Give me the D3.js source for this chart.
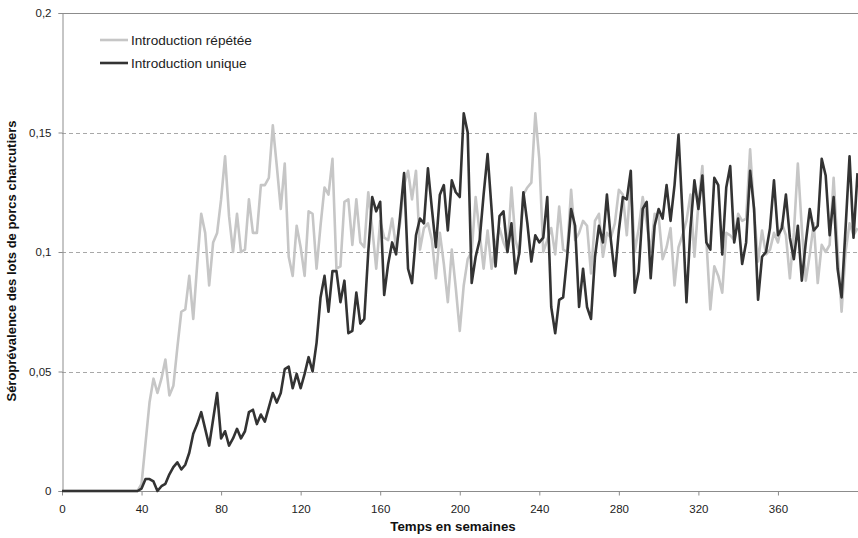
<!DOCTYPE html>
<html><head><meta charset="utf-8">
<script src="https://cdn.jsdelivr.net/npm/d3@7"></script>
<style>
body{margin:0;background:#fff;}
text{font-family:"Liberation Sans",Arial,sans-serif;}
</style></head>
<body>
<svg id="chart" width="858" height="538"></svg>
<script>
const weeks = d3.range(0, 401, 2);
const seriesNames = ["Introduction répétée", "Introduction unique"];
const repetee = [
0,0,0,0,0,0,0,0,0,0,0,0,0,0,0,0,0,0,0,0,
0.003,0.020,0.037,0.047,0.041,0.047,0.055,0.040,0.044,0.060,
0.075,0.076,0.090,0.072,0.095,0.116,0.108,0.086,0.104,0.108,
0.122,0.140,0.115,0.100,0.116,0.100,0.101,0.122,0.108,0.108,
0.128,0.128,0.131,0.153,0.136,0.118,0.137,0.098,0.090,0.111,
0.102,0.090,0.117,0.116,0.093,0.111,0.127,0.124,0.139,0.093,
0.094,0.121,0.122,0.103,0.122,0.104,0.102,0.125,0.110,0.093,
0.113,0.106,0.105,0.114,0.102,0.112,0.128,0.134,0.122,0.134,
0.101,0.110,0.112,0.105,0.089,0.108,0.095,0.079,0.101,0.085,
0.067,0.086,0.097,0.100,0.123,0.108,0.093,0.109,0.093,0.103,
0.110,0.104,0.100,0.127,0.105,0.099,0.124,0.127,0.129,0.158,
0.139,0.100,0.105,0.110,0.099,0.119,0.101,0.100,0.126,0.105,
0.108,0.113,0.111,0.091,0.113,0.116,0.098,0.108,0.106,0.112,
0.126,0.124,0.107,0.130,0.100,0.110,0.123,0.112,0.100,0.116,
0.115,0.097,0.102,0.110,0.086,0.102,0.107,0.113,0.124,0.098,
0.120,0.136,0.105,0.076,0.094,0.090,0.083,0.108,0.107,0.105,
0.116,0.113,0.114,0.143,0.117,0.096,0.109,0.099,0.101,0.108,
0.104,0.112,0.107,0.089,0.108,0.137,0.110,0.088,0.099,0.112,
0.087,0.103,0.100,0.103,0.131,0.101,0.075,0.100,0.112,0.107,
0.110
];
const unique = [
0,0,0,0,0,0,0,0,0,0,0,0,0,0,0,0,0,0,0,0,
0.001,0.005,0.005,0.004,0.000,0.002,0.003,0.007,0.010,0.012,
0.009,0.011,0.016,0.024,0.028,0.033,0.026,0.019,0.030,0.041,
0.022,0.025,0.019,0.022,0.026,0.022,0.025,0.033,0.034,0.028,
0.032,0.029,0.035,0.041,0.037,0.041,0.051,0.052,0.043,0.049,
0.043,0.049,0.056,0.050,0.062,0.081,0.090,0.075,0.092,0.092,
0.079,0.088,0.066,0.067,0.083,0.070,0.072,0.100,0.123,0.117,
0.121,0.082,0.095,0.104,0.099,0.115,0.133,0.093,0.087,0.107,
0.114,0.112,0.135,0.118,0.102,0.124,0.128,0.109,0.130,0.125,
0.123,0.158,0.150,0.087,0.098,0.105,0.124,0.141,0.118,0.094,
0.115,0.117,0.100,0.112,0.091,0.100,0.125,0.112,0.096,0.107,
0.104,0.106,0.123,0.077,0.066,0.080,0.081,0.098,0.118,0.111,
0.077,0.093,0.077,0.072,0.098,0.111,0.104,0.124,0.105,0.090,
0.109,0.123,0.122,0.134,0.083,0.092,0.118,0.121,0.089,0.111,
0.118,0.114,0.128,0.113,0.128,0.149,0.116,0.079,0.110,0.130,
0.118,0.132,0.104,0.101,0.131,0.128,0.099,0.127,0.136,0.104,
0.114,0.095,0.104,0.134,0.118,0.080,0.098,0.100,0.110,0.130,
0.107,0.110,0.124,0.106,0.097,0.111,0.088,0.104,0.118,0.109,
0.111,0.139,0.132,0.107,0.123,0.093,0.081,0.110,0.140,0.106,
0.133
];
const xTicks = [0,40,80,120,160,200,240,280,320,360];
const yTicks = [0,0.05,0.1,0.15,0.2];
const yTickLabels = ["0","0,05","0,1","0,15","0,2"];
const colors = ["#c6c6c6", "#333333"];

const svg = d3.select("#chart");
const m = {left:62, right:0.5, top:13, bottom:47};
const W = 858, H = 538;
const x = d3.scaleLinear().domain([0,400]).range([m.left, W - m.right]);
const y = d3.scaleLinear().domain([0,0.2]).range([H - m.bottom, m.top]);

// gridlines
svg.append("g").selectAll("line").data(yTicks.filter(v=>v>0 && v<0.2)).join("line")
  .attr("x1", m.left).attr("x2", W).attr("y1", d=>Math.round(y(d))+0.5).attr("y2", d=>Math.round(y(d))+0.5)
  .attr("stroke","#a8a8a8").attr("stroke-width",1).attr("stroke-dasharray","4,3");
// top border
svg.append("line").attr("x1",m.left).attr("x2",W).attr("y1",Math.round(y(0.2))+0.5).attr("y2",Math.round(y(0.2))+0.5)
  .attr("stroke","#8c8c8c").attr("stroke-width",1);

// y axis
const yAxis = d3.axisLeft(y).tickValues(yTicks).tickFormat((d,i)=>yTickLabels[i]).tickSize(4).tickPadding(7);
const gy = svg.append("g").attr("transform",`translate(${m.left+0.5},0)`).call(yAxis);
gy.select(".domain").attr("stroke","#8c8c8c");
gy.selectAll(".tick line").attr("stroke","#8c8c8c");
gy.selectAll(".tick text").attr("font-size",11.5).attr("fill","#222")
  .style("font-family",'"Liberation Sans",Arial,sans-serif');

// x axis
const xAxis = d3.axisBottom(x).tickValues(xTicks).tickFormat(d=>d).tickSize(4).tickPadding(9);
const gx = svg.append("g").attr("transform",`translate(0,${Math.round(y(0))+0.5})`).call(xAxis);
gx.select(".domain").attr("stroke","#8c8c8c").attr("d",`M${m.left},0H${W}`);
gx.selectAll(".tick line").attr("stroke","#8c8c8c");
gx.selectAll(".tick text").attr("font-size",11.5).attr("fill","#222")
  .style("font-family",'"Liberation Sans",Arial,sans-serif');

// lines
const line = d3.line().x((d,i)=>x(weeks[i])).y(d=>y(d));
[repetee, unique].forEach((s,k)=>{
  svg.append("path").datum(s).attr("d",line).attr("fill","none")
    .attr("stroke",colors[k]).attr("stroke-width",2.6).attr("stroke-linejoin","round");
});

// axis titles
svg.append("text").attr("x",453).attr("y",531).attr("text-anchor","middle")
  .attr("font-size",13.3).attr("font-weight","bold").attr("fill","#111")
  .style("font-family",'"Liberation Sans",Arial,sans-serif')
  .text("Temps en semaines");
svg.append("text").attr("transform","translate(16,261) rotate(-90)").attr("text-anchor","middle")
  .attr("font-size",13).attr("font-weight","bold").attr("fill","#111")
  .style("font-family",'"Liberation Sans",Arial,sans-serif')
  .text("Séroprévalence des lots de porcs charcutiers");

// legend
const leg = svg.append("g");
seriesNames.forEach((n,k)=>{
  const ly = 40 + k*23;
  leg.append("line").attr("x1",100).attr("x2",128).attr("y1",ly).attr("y2",ly)
    .attr("stroke",colors[k]).attr("stroke-width",2.6);
  leg.append("text").attr("x",131).attr("y",ly+4.5).attr("font-size",13.6).attr("fill","#222")
    .style("font-family",'"Liberation Sans",Arial,sans-serif')
    .text(n);
});
</script>
</body></html>
